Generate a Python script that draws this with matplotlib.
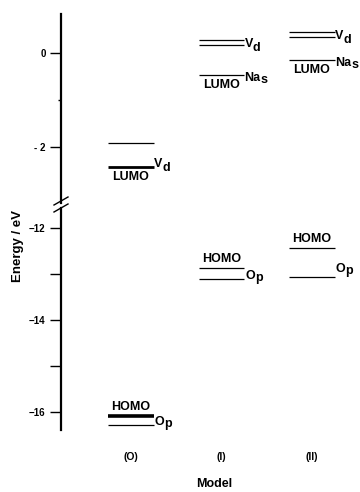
import matplotlib.pyplot as plt

plt.rcParams['font.family'] = ['Liberation Sans', 'DejaVu Sans']
plt.rcParams['font.weight'] = 'bold'

# data (eV)
models = ['(O)', '(I)', '(II)']
upper_levels = [-1.91, 0.28, 0.45]      # extra level above LUMO (unlabelled in O)
vd_levels = [-2.43, 0.17, 0.34]         # V_d level (LUMO in O)
lumo_nas = [None, -0.47, -0.15]         # Na_s LUMO in I, II
homo = [-16.09, -12.87, -12.43]
op = [-16.28, -13.11, -13.07]

upper_ticks = [0, -2]
upper_ticklabels = ['0', '- 2']
lower_ticks = [-12, -14, -16]
lower_ticklabels = ['−12', '−14', '−16']

W, H = 360, 492
fig = plt.figure(figsize=(3.6, 4.92), dpi=100)

def box(x0, y0, x1, y1):
    return [x0 / W, 1 - y1 / H, (x1 - x0) / W, (y1 - y0) / H]

ax_top = fig.add_axes(box(61, 14, 360, 203))
ax_bot = fig.add_axes(box(61, 208, 360, 430))

xlim = (-0.773, 2.53)
for ax in (ax_top, ax_bot):
    ax.set_xlim(*xlim)
    for s in ['top', 'right', 'bottom']:
        ax.spines[s].set_visible(False)
    ax.spines['left'].set_linewidth(1.6)
    ax.tick_params(axis='y', which='major', length=8, width=1, pad=3, labelsize=7)
    ax.tick_params(axis='y', which='minor', length=8, width=1)
    ax.patch.set_alpha(0)

ax_top.set_ylim(-3.19, 0.83)
ax_bot.set_ylim(-16.39, -11.565)
ax_top.set_yticks(upper_ticks, upper_ticklabels)
ax_top.set_yticks([-1], minor=True)
ax_top.tick_params(axis='y', which='minor', length=2)
ax_bot.set_yticks(lower_ticks, lower_ticklabels)
ax_bot.set_yticks([-13, -15], minor=True)
ax_top.set_xticks([])
ax_bot.set_xticks(range(len(models)), models)
ax_bot.tick_params(axis='x', length=0, pad=16, labelsize=7.5)

hw = 0.25
fs = 9

def level(ax, x, e, lw=0.9):
    ax.hlines(e, x - hw, x + hw, colors='black', linewidth=lw)

def label(ax, x, e, txt, dx, dy, ha, va):
    return ax.annotate(txt, xy=(x, e), xytext=(dx, dy), textcoords='offset points',
                       ha=ha, va=va, fontsize=fs, fontweight='bold',
                       annotation_clip=False)

def sublabel(ax, x, e, main, sub, dx, dy, va, drop):
    t = label(ax, x, e, main, dx, dy, 'left', va)
    ax.annotate(sub, xy=(1, 0), xycoords=t, xytext=(0, -drop),
                textcoords='offset points', ha='left', va='bottom',
                fontsize=fs, fontweight='bold', annotation_clip=False)

for i in range(len(models)):
    thick = i == 0
    # upper block
    level(ax_top, i, upper_levels[i])
    level(ax_top, i, vd_levels[i], lw=2.0 if thick else 0.9)
    if i == 0:
        label(ax_top, i, vd_levels[i], 'LUMO', 0, -2.5, 'center', 'top')
        sublabel(ax_top, i + hw, vd_levels[i], 'V', 'd', 0.3, 0, 'baseline', 2.5)
    else:
        sublabel(ax_top, i + hw, upper_levels[i], 'V', 'd', 0.3, 1, 'top', 2.5)
        level(ax_top, i, lumo_nas[i])
        label(ax_top, i, lumo_nas[i], 'LUMO', 0, -2.5, 'center', 'top')
        sublabel(ax_top, i + hw, lumo_nas[i], 'Na', 's', 0.3, 2, 'top', 1.5)
    # lower block
    level(ax_bot, i, homo[i], lw=2.6 if thick else 0.9)
    label(ax_bot, i, homo[i], 'HOMO', 0, 2, 'center', 'bottom')
    level(ax_bot, i, op[i])
    op_dy = 3.5 if i == 2 else 0
    sublabel(ax_bot, i + hw, op[i], 'O', 'p', 0.8, op_dy, 'baseline', 1.5)

# axis break marks
for yy in (201, 208):
    fig.add_artist(plt.Line2D([54 / W, 68 / W], [1 - (yy + 4) / H, 1 - (yy - 4) / H],
                              color='black', linewidth=1.0))

fig.text(18 / W, 1 - 246 / H, 'Energy / eV', rotation=90, ha='center', va='center',
         fontsize=9.5, fontweight='bold')
fig.text(214 / W, 1 - 484 / H, 'Model', ha='center', va='center',
         fontsize=9, fontweight='bold')

fig.savefig('out.png', dpi=100)
